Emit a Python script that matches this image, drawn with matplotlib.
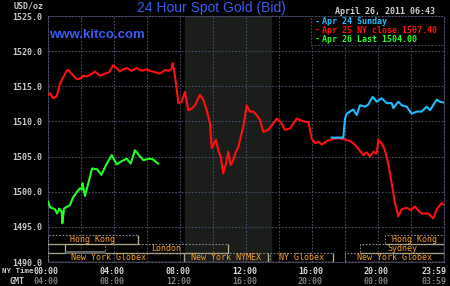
import matplotlib
matplotlib.use("Agg")
import matplotlib.pyplot as plt
from matplotlib.patches import Rectangle

# time axis: hours after 00:00 New York time
apr25_t = [0.0, 0.12, 0.32, 0.53, 0.73, 1.13, 1.23, 1.5, 1.74, 1.94, 2.15, 2.35, 2.6, 2.85, 3.15,
           3.45, 3.7, 3.96, 4.15, 4.36, 4.55, 4.77, 5.07, 5.38, 5.7, 6.0, 6.18, 6.5, 6.79, 7.09,
           7.3, 7.5, 7.56, 7.64, 7.76, 7.9, 8.1, 8.3, 8.5, 8.71, 8.91, 9.21, 9.41, 9.62, 9.82,
           9.92, 10.05, 10.18, 10.32, 10.47, 10.62, 10.79, 10.93, 11.07, 11.23, 11.39, 11.53,
           11.84, 12.04, 12.24, 12.44, 12.65, 12.85, 13.05, 13.35, 13.65, 13.86, 14.16, 14.36,
           14.67, 15.07, 15.27, 15.5, 15.78, 15.98, 16.18, 16.4, 16.59, 16.89, 17.29, 17.6, 17.9,
           18.3, 18.5, 18.71, 19.11, 19.3, 19.52, 19.72, 19.92, 20.02, 20.22, 20.42, 20.62, 20.83,
           21.03, 21.23, 21.44, 21.74, 22.0, 22.24, 22.45, 22.65, 23.05, 23.35, 23.56, 23.86, 23.96]
apr25_v = [1513.8, 1514.0, 1513.3, 1513.6, 1515.4, 1517.2, 1517.3, 1516.6, 1516.0, 1516.1, 1516.5,
           1516.4, 1516.7, 1517.1, 1516.5, 1516.8, 1517.0, 1518.0, 1517.6, 1517.1, 1517.4, 1517.6,
           1517.2, 1517.6, 1517.2, 1517.4, 1517.2, 1517.0, 1516.8, 1517.3, 1517.2, 1517.5, 1518.3,
           1517.2, 1515.4, 1512.6, 1512.8, 1514.2, 1511.6, 1511.8, 1512.3, 1513.8, 1513.1, 1511.6,
           1509.7, 1506.2, 1506.8, 1507.4, 1505.9, 1505.0, 1502.6, 1504.0, 1505.7, 1503.8, 1504.5,
           1505.7, 1506.3, 1509.3, 1512.3, 1511.4, 1511.4, 1510.9, 1510.2, 1508.5, 1508.8, 1509.7,
           1510.4, 1509.7, 1508.8, 1509.0, 1510.4, 1510.2, 1510.0, 1509.9, 1507.6, 1506.9, 1507.1,
           1506.7, 1507.2, 1507.5, 1507.6, 1507.5, 1507.2, 1506.9, 1506.4, 1505.2, 1505.6, 1505.0,
           1505.7, 1505.4, 1507.4, 1506.9, 1505.9, 1504.0, 1501.2, 1498.4, 1496.5, 1497.5, 1497.7,
           1497.4, 1497.9, 1497.3, 1496.9, 1496.9, 1496.2, 1497.5, 1498.4, 1498.2]

apr24_t = [17.19, 17.9, 18.0, 18.1, 18.3, 18.5, 18.71, 18.91, 19.21, 19.41, 19.68, 19.92, 20.22,
           20.53, 20.83, 20.93, 21.23, 21.44, 21.74, 22.04, 22.35, 22.65, 22.95, 23.15, 23.56,
           23.76, 23.96]
apr24_v = [1507.7, 1507.7, 1510.4, 1511.1, 1511.4, 1511.7, 1510.9, 1512.3, 1512.1, 1512.4, 1513.5,
           1512.8, 1513.3, 1512.6, 1512.6, 1511.9, 1512.8, 1512.3, 1512.1, 1511.1, 1511.4, 1511.4,
           1512.1, 1511.6, 1513.1, 1512.8, 1512.7]

apr26_t = [0.0, 0.12, 0.42, 0.55, 0.67, 0.83, 0.87, 0.97, 1.33, 1.52, 1.76, 1.94, 2.06, 2.09, 2.24,
           2.42, 2.67, 2.97, 3.24, 3.52, 3.86, 4.16, 4.36, 4.77, 5.01, 5.27, 5.58, 5.78, 6.18,
           6.36, 6.67]
apr26_v = [1498.6, 1497.8, 1497.5, 1496.9, 1497.6, 1497.2, 1495.5, 1497.6, 1498.1, 1499.2, 1500.0,
           1500.5, 1500.3, 1501.2, 1499.4, 1501.0, 1503.3, 1503.2, 1502.4, 1503.8, 1505.2, 1503.9,
           1504.2, 1504.7, 1504.0, 1505.9, 1505.0, 1504.5, 1504.7, 1504.6, 1504.0]

legend_labels = ["Apr 24 Sunday", "Apr 25 NY close 1507.40", "Apr 26 Last 1504.00"]
ny_ticks = [0, 4, 8, 12, 16, 20, 23.98]
ny_labels = ["00:00", "04:00", "08:00", "12:00", "16:00", "20:00", "23:59"]
gmt_labels = ["04:00", "08:00", "12:00", "16:00", "20:00", "00:00", "03:59"]
price_ticks = [1490, 1495, 1500, 1505, 1510, 1515, 1520, 1525]

# market sessions: name, start hour, end hour, row (0 = top), label hour
sessions = [("Hong Kong", 0.0, 5.45, 0, None), ("Hong Kong", 20.4, 24.0, 0, None),
            ("", 0.0, 1.03, 1, None), ("London", 3.45, 10.9, 1, None),
            ("Sydney", 18.9, 24.0, 1, None),
            ("New York Globex", 0.0, 8.25, 2, 3.64), ("New York NYMEX", 8.25, 13.35, 2, None),
            ("NY Globex", 13.45, 17.27, 2, None), ("New York Globex", 18.0, 24.0, 2, None)]
nymex_open, nymex_close = 8.33, 13.5

mono = "DejaVu Sans Mono"
grid_c = "#4a4a68"
fs = 6

fig = plt.figure(figsize=(4.5, 2.86), dpi=100, facecolor="black")
ax = fig.add_axes([48 / 450, 1 - 262 / 286, 396 / 450, 246 / 286])
ax.set_facecolor("black")
ax.set_xlim(0, 24)
ax.set_ylim(1490, 1525)

ax.axvspan(nymex_open, nymex_close, color="#1b1d1b", zorder=0)

ax.set_xticks(range(0, 25, 2))
ax.set_yticks(price_ticks)
ax.set_yticklabels(["%.1f" % p for p in price_ticks], family=mono, fontsize=fs,
                   fontweight="bold", color="#c8c8c8")
ax.tick_params(length=0, labelbottom=False, pad=4)
ax.grid(True, color=grid_c, linestyle=(0, (1.5, 1.5)), linewidth=0.8)
ax.set_axisbelow(True)
for s in ax.spines.values():
    s.set_color(grid_c)
    s.set_linestyle((0, (1.5, 1.5)))
    s.set_linewidth(0.8)

ax.plot(apr25_t, apr25_v, color="#ff1010", lw=1.5, zorder=3)
ax.plot(apr24_t, apr24_v, color="#22bbff", lw=1.5, zorder=3)
ax.plot(apr26_t, apr26_v, color="#22ff22", lw=1.5, zorder=3)

# session boxes along the bottom: dotted top/left, solid pale bottom/right
row_h = 1.3
for name, t0, t1, row, lab_t in sessions:
    y0 = 1490 + (2 - row) * row_h
    ax.add_patch(Rectangle((t0, y0), t1 - t0, row_h, fill=False, edgecolor="#8a8a8a",
                           linestyle=(0, (1.5, 1.5)), linewidth=0.8, zorder=4))
    ax.plot([t0, t1, t1], [y0, y0, y0 + row_h], color="#bdb48a", lw=0.9, zorder=4,
            solid_capstyle="butt")
    if name:
        if lab_t is None:
            lab_t = (t0 + t1) / 2
        ax.text(lab_t, y0 + row_h / 2, name, family=mono, fontsize=fs,
                color="#f0a030", ha="center", va="center", zorder=5)
ax.plot([1.03, 3.45], [1491.4, 1491.4], color="#606060", lw=2.2, zorder=4,
        solid_capstyle="butt")

# legend box
ax.add_patch(Rectangle((15.94, 1520.9), 24 - 15.94, 4.1, facecolor="black", edgecolor=grid_c,
                       linestyle=(0, (1.5, 1.5)), linewidth=0.8, zorder=4))
leg_colors = ["#22bbff", "#ff1010", "#22ff22"]
for i, (lab, c) in enumerate(zip(legend_labels, leg_colors)):
    y = 22 + i * 8.7
    fig.text(315 / 450, 1 - y / 286, "-", color=c, family=mono, fontsize=fs,
             fontweight="bold", va="center", ha="left")
    fig.text(322 / 450, 1 - y / 286, lab, color=c, family=mono, fontsize=fs,
             fontweight="bold", va="center", ha="left")

# x labels, NY time and GMT
for t, ny, gmt in zip(ny_ticks, ny_labels, gmt_labels):
    x = (46.5 + t * 16.5) / 450
    ha = "center"
    if t > 23:
        x, ha = 447 / 450, "right"
    fig.text(x, 1 - 271 / 286, ny, color="#d8d8d8", family=mono, fontsize=fs,
             fontweight="bold", ha=ha, va="center")
    fig.text(x, 1 - 282 / 286, gmt, color="#7c7c7c", family=mono, fontsize=fs,
             fontweight="bold", ha=ha, va="center")
fig.text(2 / 450, 1 - 271 / 286, "NY Time", color="#c8c8c8", family=mono, fontsize=5.4,
         fontweight="bold", ha="left", va="center")
fig.text(10 / 450, 1 - 282 / 286, "GMT", color="#c8c8c8", family=mono, fontsize=fs,
         fontweight="bold", ha="left", va="center")

fig.text(44 / 450, 1 - 6 / 286, "USD/oz", color="#c8c8c8", family=mono, fontsize=fs,
         fontweight="bold", ha="right", va="center")
fig.text(211 / 450, 1 - 8 / 286, "24 Hour Spot Gold (Bid)", color="#3a5cf2",
         family="Liberation Sans", fontsize=10, ha="center", va="center")
fig.text(49 / 450, 1 - 35 / 286, "www.kitco.com", color="#3a5cf2", family="Liberation Sans",
         fontsize=9.5, fontweight="bold", ha="left", va="center")
fig.text(435 / 450, 1 - 12 / 286, "April 26, 2011 06:43", color="#d0d0d0", family=mono,
         fontsize=fs, fontweight="bold", ha="right", va="center")

fig.savefig("out.png", dpi=100, facecolor="black")
